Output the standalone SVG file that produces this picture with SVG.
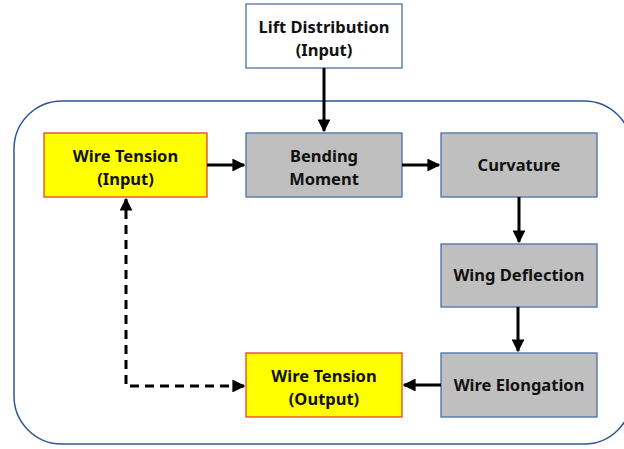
<svg xmlns="http://www.w3.org/2000/svg" width="624" height="449" viewBox="0 0 624 449">
<style>
.box{stroke:#4A6FA8;stroke-width:1.3}
.white{fill:#FFFFFF}
.gray{fill:#BFBFBF}
.yellow{fill:#FFFF00;stroke:#E8412C;stroke-width:1.3}
.lbl{font-family:"Noto Sans","Open Sans",sans-serif;font-weight:bold;font-size:16.5px;fill:#111;text-anchor:middle}
.conn{stroke:#000;stroke-width:3;fill:none}
.dash{stroke:#000;stroke-width:3;fill:none;stroke-dasharray:9,6}
</style>
<defs>
<marker id="ah" viewBox="0 0 10 10" refX="9" refY="5" markerWidth="4.3" markerHeight="4.3" orient="auto" markerUnits="strokeWidth">
<path d="M0,0 L10,5 L0,10 z" fill="#000"/>
</marker>
</defs>
<rect x="0" y="0" width="624" height="449" fill="#FFFFFF"/>
<rect id="container" x="14" y="101" width="618" height="343" rx="48" ry="48" fill="none" stroke="#2F5597" stroke-width="1.5"/>
<g id="lift">
<rect class="box white" x="246" y="4" width="156" height="64"/>
<text class="lbl" x="324" y="33">Lift Distribution</text>
<text class="lbl" x="324" y="56">(Input)</text>
</g>
<g id="wt-input">
<rect class="yellow" x="44" y="133" width="163" height="64"/>
<text class="lbl" x="125.5" y="162">Wire Tension</text>
<text class="lbl" x="125.5" y="185">(Input)</text>
</g>
<g id="bending">
<rect class="box gray" x="246" y="133" width="156" height="64"/>
<text class="lbl" x="324" y="162">Bending</text>
<text class="lbl" x="324" y="185">Moment</text>
</g>
<g id="curvature">
<rect class="box gray" x="441" y="133" width="156" height="64"/>
<text class="lbl" x="519" y="171">Curvature</text>
</g>
<g id="wing">
<rect class="box gray" x="441" y="244" width="156" height="63"/>
<text class="lbl" x="519" y="281">Wing Deflection</text>
</g>
<g id="elongation">
<rect class="box gray" x="441" y="353" width="156" height="64"/>
<text class="lbl" x="519" y="391">Wire Elongation</text>
</g>
<g id="wt-output">
<rect class="yellow" x="246" y="353" width="156" height="64"/>
<text class="lbl" x="324" y="382">Wire Tension</text>
<text class="lbl" x="324" y="405">(Output)</text>
</g>
<g id="connectors">
<line class="conn" x1="324" y1="68" x2="324" y2="131" marker-end="url(#ah)"/>
<line class="conn" x1="207" y1="165" x2="244" y2="165" marker-end="url(#ah)"/>
<line class="conn" x1="402" y1="165" x2="439" y2="165" marker-end="url(#ah)"/>
<line class="conn" x1="519" y1="197" x2="519" y2="242" marker-end="url(#ah)"/>
<line class="conn" x1="518" y1="307" x2="518" y2="351" marker-end="url(#ah)"/>
<line class="conn" x1="441" y1="385" x2="404" y2="385" marker-end="url(#ah)"/>
<polyline class="dash" points="126,210 126,386 236,386"/>
<line class="conn" x1="236" y1="386" x2="244" y2="386" marker-end="url(#ah)"/>
<line class="conn" x1="126" y1="210" x2="126" y2="199" marker-end="url(#ah)"/>
</g>
</svg>
